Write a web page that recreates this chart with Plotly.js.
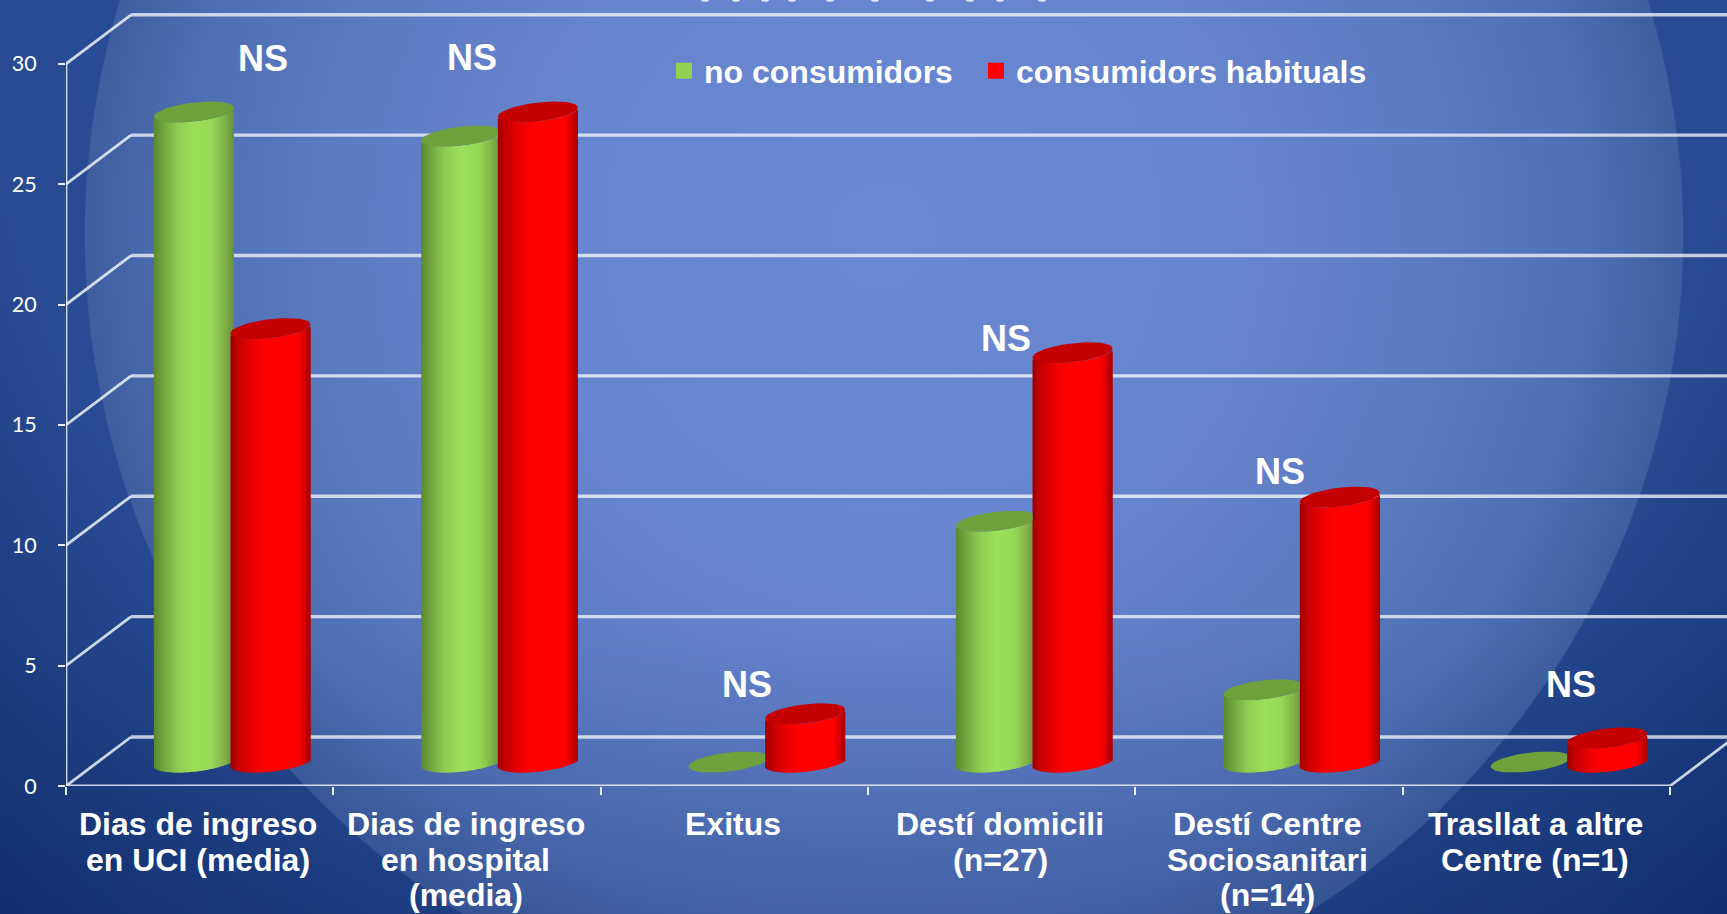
<!DOCTYPE html>
<html>
<head>
<meta charset="utf-8">
<script src="https://cdn.plot.ly/plotly-3.0.1.min.js"></script>
<style>
  html, body { margin: 0; padding: 0; width: 1727px; height: 914px; overflow: hidden; }
  body {
    background:
      linear-gradient(to bottom, rgba(18,44,110,0) 70%, rgba(18,44,110,0.22) 100%),
      radial-gradient(circle 800px at 884px 235px,
        #6a87d1 0, #6784ce 45%, #5b7ac0 70%, #4f6fb4 88%, #3e5e9f 99.8%, rgba(0,0,0,0) 100%),
      radial-gradient(circle 1260px at 864px 0,
        #294b93 70%, #10306f 100%);
  }
  #chart { width: 1727px; height: 914px; }
</style>
</head>
<body>
<div id="chart"></div>
<script>
// Outcome comparison between non-consumers and habitual consumers
const categories = [
  "Dias de ingreso<br>en UCI (media)",
  "Dias de ingreso<br>en hospital<br>(media)",
  "Exitus",
  "Destí domicili<br>(n=27)",
  "Destí Centre<br>Sociosanitari<br>(n=14)",
  "Trasllat a altre<br>Centre (n=1)"
];
const noConsumidors = [27, 26, 0, 10, 3, 0];
const consumidorsHabituals = [18, 27, 2, 17, 11, 1];
const seriesNames = ["no consumidors", "consumidors habituals"];
const yTicks = [0, 5, 10, 15, 20, 25, 30];
const significance = ["NS", "NS", "NS", "NS", "NS", "NS"];
const significanceHeight = [30.2, 30.25, 4.2, 18.6, 13.05, 4.2];
const significanceShift = [0.237, 0.02, 0.048, 0.015, 0.04, 0.129];

// Frame geometry
const W = 1727, H = 914;
const left = 66, bottom = 128;
const yMax = 32.65;
const xMax = 5.713;
const plotH = H - bottom;
const pxPerY = plotH / yMax;
const pxPerX = (W - left) / (xMax + 0.5);
const depthX = 65 / pxPerX;        // how far the back wall sits from the front plane
const depthY = 49 / pxPerY;
const barWidth = 80 / pxPerX;
const barOverlap = 3.4 / pxPerX;   // the red cylinder stands slightly in front of the green one
const groupShift = depthX / 2;     // cylinders stand half way into the floor
const floorLift = 24 / pxPerY;
const capHalfHeight = 9.5;         // px
const capTilt = 4.5;               // px rise from centre to the right end
const stripCount = 40;

const green = { top: "#6fa03c", stops: [[0, "#5c8632"], [0.08, "#6c9b3a"], [0.3, "#8fcd52"], [0.5, "#9ae05a"], [0.72, "#96d956"], [0.9, "#7fae45"], [1, "#678f3a"]] };
const red = { top: "#c40000", stops: [[0, "#9c0000"], [0.1, "#c60000"], [0.3, "#f00000"], [0.45, "#ff0000"], [0.85, "#ff0000"], [0.95, "#c80000"], [1, "#a00000"]] };

function hexToRgb(h) {
  return [1, 3, 5].map(i => parseInt(h.substr(i, 2), 16));
}
function shade(stops, t) {
  for (let i = 1; i < stops.length; i++) {
    if (t <= stops[i][0]) {
      const f = (t - stops[i - 1][0]) / (stops[i][0] - stops[i - 1][0]);
      const a = hexToRgb(stops[i - 1][1]), b = hexToRgb(stops[i][1]);
      return "rgb(" + a.map((v, k) => Math.round(v + (b[k] - v) * f)).join(",") + ")";
    }
  }
  return stops[stops.length - 1][1];
}

// Centre of a cylinder relative to its category
function centreOf(side) {
  return groupShift + side * (barWidth - barOverlap) / 2;
}

// Lower rim of a cylinder, in y units, at position u in [-1, 1] across its width
function rim(u) {
  return (-capHalfHeight * Math.sqrt(Math.max(0, 1 - u * u)) + capTilt * u) / pxPerY;
}

const traces = [];

// Each cylinder body is a run of narrow bars, so the shading can vary across its width
function addBody(values, palette, side) {
  const stripW = barWidth / stripCount;
  for (let s = 0; s < stripCount; s++) {
    const t = (s + 0.5) / stripCount;
    const u = 2 * t - 1;
    traces.push({
      type: "bar",
      x: categories,
      y: values,
      base: values.map(() => floorLift + rim(u)),
      offset: centreOf(side) - barWidth / 2 + s * stripW,
      width: s === stripCount - 1 ? stripW : stripW * 2,
      opacity: 1,
      marker: { color: shade(palette.stops, t), opacity: 1, line: { width: 0 } },
      showlegend: false,
      hoverinfo: "skip",
      xaxis: "x",
      yaxis: "y"
    });
  }
}

// Elliptical caps on the top of every cylinder; a cap stops where a taller neighbour hides it
function addCaps(values, neighbour, palette, side) {
  const xs = [], ys = [];
  values.forEach((v, c) => {
    const cx = c + centreOf(side);
    const limit = side < 0 && neighbour[c] > v ? c + centreOf(1) - barWidth / 2 : Infinity;
    for (let k = 0; k <= 48; k++) {
      const a = k / 48 * 2 * Math.PI;
      xs.push(Math.min(limit, cx + barWidth / 2 * Math.cos(a)));
      ys.push(v + floorLift + (capHalfHeight * Math.sin(a) + capTilt * Math.cos(a)) / pxPerY);
    }
    xs.push(null); ys.push(null);
  });
  traces.push({
    type: "scatter", mode: "lines", x: xs, y: ys,
    fill: "toself", fillcolor: palette.top,
    line: { width: 0, color: palette.top },
    showlegend: false, hoverinfo: "skip", xaxis: "x2", yaxis: "y"
  });
}

addBody(noConsumidors, green, -1);
addBody(consumidorsHabituals, red, 1);
addCaps(noConsumidors, consumidorsHabituals, green, -1);
addCaps(consumidorsHabituals, noConsumidors, red, 1);

// Legend entries, each in its own legend box so the spacing between them can be set
[[seriesNames[0], "#92d050", "legend"], [seriesNames[1], "#ff0000", "legend2"]].forEach(([name, color, box]) => {
  traces.push({
    type: "scatter", mode: "markers", x: [null], y: [null], name: name, legend: box,
    marker: { symbol: "square", size: 17, color: color },
    showlegend: true, hoverinfo: "skip", xaxis: "x2", yaxis: "y"
  });
});

// Back wall, floor and axis lines
const wallStyle = { color: "rgba(255,255,255,0.72)", width: 3.4 };
const frontStyle = { color: "rgba(255,255,255,0.78)", width: 2.8 };
const shapes = [];
function seg(x0, y0, x1, y1, style) {
  shapes.push({ type: "line", xref: "x2", yref: "y", x0, y0, x1, y1, line: style, layer: "below" });
}
yTicks.forEach(v => {
  seg(-0.5, v, -0.5 + depthX, v + depthY, frontStyle);
  seg(-0.5 + depthX, v + depthY, xMax + 0.2, v + depthY, wallStyle);
});
seg(-0.5, 0, -0.5, yTicks[yTicks.length - 1], frontStyle);
seg(-0.5, 0, 5.5, 0, frontStyle);
seg(5.5, 0, 5.5 + depthX, depthY, frontStyle);

// Clipped heading running off the top edge
[705, 736, 765, 792, 830, 875, 930, 970, 1000, 1042].forEach(px => {
  const cx = (px - left) / pxPerX - 0.5;
  shapes.push({
    type: "circle", xref: "x2", yref: "y",
    x0: cx - 4 / pxPerX, x1: cx + 4 / pxPerX,
    y0: yMax - 1.8 / pxPerY, y1: yMax + 1.8 / pxPerY,
    fillcolor: "rgba(255,255,255,0.8)", line: { width: 0 }, layer: "above"
  });
});

const boldFont = size => ({ family: "Liberation Sans, Arial, sans-serif", size: size, color: "#ffffff", weight: 700 });

const annotations = [];
significance.forEach((txt, c) => {
  annotations.push({
    xref: "x2", yref: "y", x: c + significanceShift[c], y: significanceHeight[c],
    text: txt, showarrow: false, xanchor: "center", yanchor: "middle", font: boldFont(36)
  });
});
// Category captions, one annotation per line to keep the tight line spacing
const captionTop = -38, captionStep = -35.5, captionNudge = -0.005;   // px below the axis, category units
categories.forEach((label, c) => {
  label.split("<br>").forEach((line, i) => {
    annotations.push({
      xref: "x2", yref: "paper", x: c + captionNudge, y: (captionTop + i * captionStep) / plotH,
      text: line, showarrow: false, xanchor: "center", yanchor: "middle", font: boldFont(32)
    });
  });
});

const legendBox = px => ({
  orientation: "h", xref: "paper", yref: "paper",
  x: (px - left) / (W - left), y: (plotH - 71) / plotH,
  xanchor: "left", yanchor: "middle",
  bgcolor: "rgba(0,0,0,0)", font: boldFont(32),
  itemclick: false, itemdoubleclick: false
});

const layout = {
  width: W, height: H,
  margin: { l: left, r: 0, t: 0, b: bottom, pad: 0 },
  paper_bgcolor: "rgba(0,0,0,0)",
  plot_bgcolor: "rgba(0,0,0,0)",
  barmode: "overlay",
  showlegend: true,
  legend: legendBox(664),
  legend2: legendBox(976),
  xaxis: {
    type: "category", categoryorder: "array", categoryarray: categories,
    range: [-0.5, xMax], fixedrange: true,
    tickson: "boundaries", ticks: "outside", ticklen: 8, tickwidth: 2, tickcolor: "#e8edf8",
    showticklabels: false, showgrid: false, zeroline: false, showline: false
  },
  xaxis2: {
    type: "linear", overlaying: "x", range: [-0.5, xMax], visible: false, fixedrange: true
  },
  yaxis: {
    range: [0, yMax], fixedrange: true,
    tickmode: "array", tickvals: yTicks, ticktext: yTicks.map(String),
    ticks: "outside", ticklen: 7, tickwidth: 2, tickcolor: "#e8edf8",
    ticklabelstandoff: 17,
    tickfont: { family: "Lato, sans-serif", size: 21.5, color: "#ffffff" },
    showgrid: false, zeroline: false, showline: false
  },
  shapes: shapes,
  annotations: annotations
};

Plotly.newPlot("chart", traces, layout, { displayModeBar: false, staticPlot: true });
</script>
</body>
</html>
